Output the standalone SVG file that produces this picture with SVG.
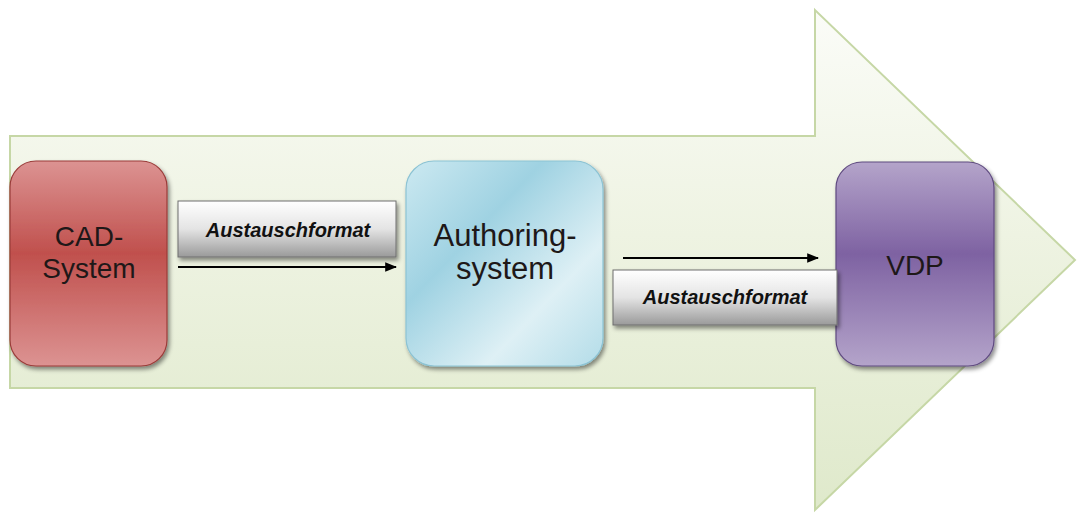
<svg xmlns="http://www.w3.org/2000/svg" width="1077" height="513" viewBox="0 0 1077 513">
  <defs>
    <linearGradient id="gBig" x1="0" y1="0" x2="0" y2="1">
      <stop offset="0" stop-color="#fbfcf8"/>
      <stop offset="0.45" stop-color="#eef3e2"/>
      <stop offset="1" stop-color="#dfe9cb"/>
    </linearGradient>
    <linearGradient id="gRed" x1="0" y1="0" x2="0" y2="1">
      <stop offset="0" stop-color="#dc9392"/>
      <stop offset="0.45" stop-color="#c0504d"/>
      <stop offset="1" stop-color="#dc9392"/>
    </linearGradient>
    <linearGradient id="gBlue" x1="0" y1="0" x2="1" y2="1">
      <stop offset="0" stop-color="#cce9f1"/>
      <stop offset="0.35" stop-color="#9fd2e2"/>
      <stop offset="0.7" stop-color="#def0f5"/>
      <stop offset="1" stop-color="#b3dce8"/>
    </linearGradient>
    <linearGradient id="gPurple" x1="0" y1="0" x2="0" y2="1">
      <stop offset="0" stop-color="#b4a4ca"/>
      <stop offset="0.45" stop-color="#7e62a2"/>
      <stop offset="1" stop-color="#b4a4ca"/>
    </linearGradient>
    <linearGradient id="gLabel" x1="0" y1="0" x2="0" y2="1">
      <stop offset="0" stop-color="#ffffff"/>
      <stop offset="0.5" stop-color="#e4e4e4"/>
      <stop offset="1" stop-color="#9a9a9a"/>
    </linearGradient>
    <filter id="shadow" x="-10%" y="-10%" width="125%" height="125%">
      <feDropShadow dx="2" dy="3" stdDeviation="2" flood-color="#000" flood-opacity="0.45"/>
    </filter>
    <marker id="head" viewBox="0 0 10 10" refX="9" refY="5" markerWidth="6" markerHeight="6" orient="auto" markerUnits="strokeWidth">
      <path d="M0,1 L10,5 L0,9 z" fill="#000"/>
    </marker>
  </defs>
  <style>
    .node-text { font-family: "Liberation Sans", Arial, sans-serif; fill: #1e1818; text-anchor: middle; }
    .label-text { font-family: "Liberation Sans", Arial, sans-serif; font-weight: bold; font-style: italic; font-size: 20px; fill: #111; text-anchor: middle; }
    .label-box { fill: url(#gLabel); stroke: #6e6e6e; stroke-width: 1; filter: url(#shadow); }
    .flow { stroke: #000; stroke-width: 2; fill: none; marker-end: url(#head); }
  </style>

  <!-- large background arrow -->
  <g id="process-arrow">
    <path d="M10,136 L815,136 L815,10 L1075,260 L815,510 L815,388 L10,388 Z" fill="url(#gBig)" stroke="#c6d7a6" stroke-width="2"/>
  </g>

  <g id="cad-system">
    <rect x="10" y="161" width="157" height="205" rx="26" fill="url(#gRed)" stroke="#9a3b39" stroke-width="1.2" filter="url(#shadow)"/>
    <text class="node-text" font-size="28" x="89" y="246">CAD-</text>
    <text class="node-text" font-size="28" x="89" y="278">System</text>
  </g>

  <g id="authoring-system">
    <rect x="406" y="161" width="197" height="205" rx="28" fill="url(#gBlue)" stroke="#8cc3d4" stroke-width="1.2" filter="url(#shadow)"/>
    <text class="node-text" font-size="31" x="505" y="246">Authoring-</text>
    <text class="node-text" font-size="31" x="505" y="279">system</text>
  </g>

  <g id="vdp">
    <rect x="836" y="162" width="158" height="204" rx="26" fill="url(#gPurple)" stroke="#5f4a80" stroke-width="1.2" filter="url(#shadow)"/>
    <text class="node-text" font-size="28" x="915" y="275">VDP</text>
  </g>

  <g id="label-1">
    <rect class="label-box" x="178" y="201" width="218" height="56"/>
    <text class="label-text" x="288" y="237">Austauschformat</text>
  </g>

  <g id="label-2">
    <rect class="label-box" x="613" y="270" width="224" height="55"/>
    <text class="label-text" x="725" y="304">Austauschformat</text>
  </g>

  <g id="connectors">
    <line class="flow" x1="178" y1="267" x2="396" y2="267"/>
    <line class="flow" x1="623" y1="258" x2="818" y2="258"/>
  </g>
</svg>
